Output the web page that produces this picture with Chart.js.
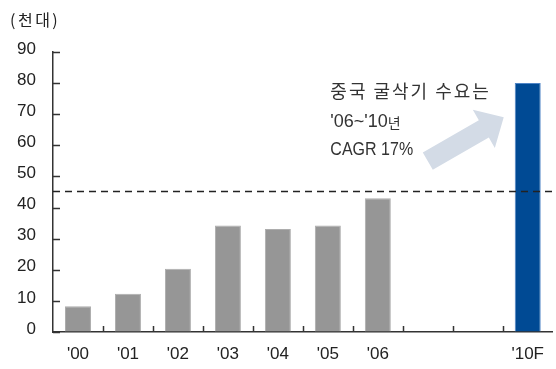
<!DOCTYPE html>
<html><head><meta charset="utf-8">
<script src="https://cdn.jsdelivr.net/npm/chart.js@4/dist/chart.umd.min.js"></script>
<style>html,body{margin:0;padding:0;background:#fff;overflow:hidden}#wrap{width:556px;height:369px;position:relative}</style>
</head><body><div id="wrap"><canvas id="c"></canvas></div>
<script>
const categories = ["'00", "'01", "'02", "'03", "'04", "'05", "'06", "", "", "'10F"];
const demand = [8.3, 12.3, 20.3, 34.2, 33.1, 34.2, 43.0, null, null, 80.0];
const forecastIndex = 9;
const yMin = 0, yMax = 90, yStep = 10;
const referenceLevel = 45.4;
const unitLabel = "(천대)";
const noteLines = ["중국 굴삭기 수요는", "'06~'10년", "CAGR 17%"];

const latin = "'Liberation Sans', Arial, sans-serif";
const kr = "'Noto Sans CJK KR', 'Noto Sans', sans-serif";

const decor = {
  id: 'decor',
  afterDatasetsDraw(chart) {
    const {ctx, chartArea: a, scales: {x, y}} = chart;
    ctx.save();
    // dashed reference line
    ctx.strokeStyle = '#222';
    ctx.lineWidth = 1.3;
    ctx.setLineDash([7, 5]);
    const ry = Math.round(y.getPixelForValue(referenceLevel)) + 0.5;
    ctx.beginPath(); ctx.moveTo(a.left, ry); ctx.lineTo(a.right, ry); ctx.stroke();
    ctx.setLineDash([]);
    // inward ticks
    ctx.strokeStyle = '#333';
    ctx.lineWidth = 1.5;
    ctx.beginPath();
    for (let v = yMin; v <= yMax; v += yStep) {
      const py = Math.round(y.getPixelForValue(v)) + 0.5;
      ctx.moveTo(a.left, py); ctx.lineTo(a.left + 7, py);
    }
    for (let i = 1; i < categories.length; i++) {
      const px = Math.round((x.getPixelForValue(i - 1) + x.getPixelForValue(i)) / 2) + 0.5;
      ctx.moveTo(px, a.bottom); ctx.lineTo(px, a.bottom - 6);
    }
    ctx.stroke();
    // arrow
    const tx = x.getPixelForValue(forecastIndex) - 24, ty = y.getPixelForValue(69.0);
    const sx = x.getPixelForValue(7), sy = y.getPixelForValue(54.9);
    const dx = tx - sx, dy = ty - sy, L = Math.hypot(dx, dy);
    const ux = dx / L, uy = dy / L, nx = -uy, ny = ux;
    const sw = 10, hw = 22, hl = 23;
    const bx = tx - ux * hl, by = ty - uy * hl;
    ctx.fillStyle = '#d3dbe6';
    ctx.beginPath();
    ctx.moveTo(sx + nx * sw, sy + ny * sw);
    ctx.lineTo(bx + nx * sw, by + ny * sw);
    ctx.lineTo(bx + nx * hw, by + ny * hw);
    ctx.lineTo(tx, ty);
    ctx.lineTo(bx - nx * hw, by - ny * hw);
    ctx.lineTo(bx - nx * sw, by - ny * sw);
    ctx.lineTo(sx - nx * sw, sy - ny * sw);
    ctx.closePath(); ctx.fill();
    // note text
    ctx.fillStyle = '#333';
    ctx.textBaseline = 'middle';
    ctx.textAlign = 'left';
    const nxp = x.getPixelForValue(5) + 2.5;
    ctx.font = '18px ' + kr;
    ctx.letterSpacing = '2px';
    ctx.fillText(noteLines[0], nxp, y.getPixelForValue(77.5));
    ctx.letterSpacing = '0px';
    ctx.font = '18px ' + latin;
    const w2 = ctx.measureText("'06~'10").width;
    ctx.fillText("'06~'10", nxp, y.getPixelForValue(67.5));
    ctx.font = '14px ' + kr;
    ctx.fillText(noteLines[1].slice(-1), nxp + w2, y.getPixelForValue(67.5) + 1);
    ctx.font = '18px ' + latin;
    ctx.save();
    ctx.translate(nxp, y.getPixelForValue(58.5));
    ctx.scale(0.89, 1);
    ctx.fillText(noteLines[2], 0, 0);
    ctx.restore();
    // unit label
    ctx.font = '16px ' + kr;
    ctx.letterSpacing = '2.5px';
    ctx.fillStyle = '#222';
    ctx.fillText(unitLabel, 10, 20);
    ctx.restore();
  }
};

new Chart(document.getElementById('c'), {
  type: 'bar',
  data: {
    labels: categories,
    datasets: [{
      data: demand,
      backgroundColor: demand.map((v, i) => i === forecastIndex ? '#004a94' : '#969696'),
      borderColor: demand.map((v, i) => i === forecastIndex ? '#4f85c6' : '#adadad'),
      borderWidth: 1,
      barPercentage: 0.52,
      categoryPercentage: 1
    }]
  },
  options: {
    responsive: true,
    maintainAspectRatio: false,
    animation: false,
    layout: {padding: {top: 52, left: 0, right: 0, bottom: 0}},
    plugins: {legend: {display: false}, tooltip: {enabled: false}},
    scales: {
      x: {
        grid: {display: true, drawOnChartArea: false, drawTicks: false},
        border: {display: true, color: '#333', width: 1.5},
        ticks: {color: '#222', font: {family: latin, size: 17}, padding: 12, maxRotation: 0, autoSkip: false},
        afterFit(s) { s.height = 37; }
      },
      y: {
        min: yMin, max: yMax,
        grid: {display: true, drawOnChartArea: false, drawTicks: false},
        border: {display: true, color: '#333', width: 1.5},
        ticks: {stepSize: yStep, color: '#222', font: {family: latin, size: 17}, padding: 17, labelOffset: -3},
        afterFit(s) { s.width = 53; }
      }
    }
  },
  plugins: [decor]
});
</script>
</body></html>
